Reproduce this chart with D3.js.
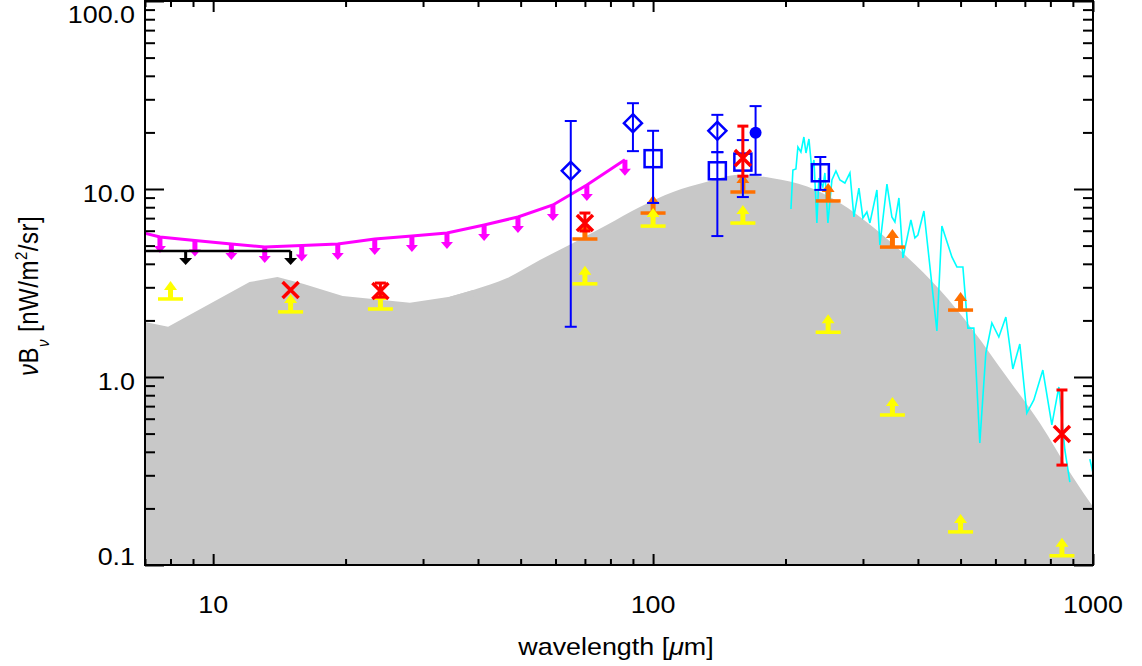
<!DOCTYPE html>
<html><head><meta charset="utf-8">
<script src="https://cdn.jsdelivr.net/npm/d3@7"></script>
<style>
body{margin:0;background:#fff}
svg{display:block}
text{font-family:"Liberation Sans",Arial,Helvetica,sans-serif;fill:#000}
</style>
</head><body>
<svg id="c" width="1142" height="666"></svg>
<script>
// ---------------- data ----------------
const modelWave = [7.0, 7.9, 12.1, 14.0, 16.0, 19.7, 28, 34.5, 39, 46.6, 55.3, 65.8, 78.5, 93.3, 111, 132, 157, 187, 224, 266, 316, 378, 449, 533, 637, 757, 900, 1000];
const modelVal  = [1.96, 1.85, 3.2, 3.4, 3.13, 2.7, 2.48, 2.67, 2.9, 3.36, 4.19, 5.16, 6.44, 8.02, 9.64, 10.9, 11.9, 11.4, 10.3, 8.43, 6.28, 4.35, 2.9, 1.78, 1.0, 0.569, 0.294, 0.204];

const magentaWave = [6.3, 7.57, 9.09, 11.0, 13.1, 15.9, 19.2, 23.3, 28.3, 34.0, 41.3, 49.3, 59.2, 70.7, 86.3];
const magentaVal  = [6.2, 5.55, 5.32, 5.10, 4.91, 5.01, 5.10, 5.42, 5.62, 5.83, 6.44, 7.10, 8.22, 10.5, 14.3];

const blackBand = [5, 15];
const blackVal = 4.68;
const blackArrowWave = [8.66, 15];

const cyanWave = [205.8,207.9,211.2,213.4,216.8,220.2,222.6,226.1,229.6,232.1,235.7,238.2,243.2,245.8,249.7,255.0,260.4,265.9,272.9,280.2,286.1,293.7,299.9,306.2,311.1,322.7,327.8,340.1,349.0,354.6,362.1,369.8,385.5,393.7,399.9,412.7,441.7,453.4,477.8,490.5,506.1,519.5,536.0,553.0,570.7,589.0,610.9,633.7,657.3,681.8,707.2,733.7,769.1,806.2,836.3,863.0,885.9,930,983.5,1015];
const cyanVal  = [7.83,12.62,12.78,16.73,15.73,18.91,15.54,18.45,12.62,14.27,6.60,11.44,10.25,12.17,6.60,11.16,12.46,11.16,10.76,12.17,7.10,10.12,7.01,7.55,6.60,9.88,5.04,10.63,7.10,6.68,8.96,4.30,6.84,5.49,5.69,7.64,1.76,6.36,4.35,3.85,3.85,1.82,1.82,0.446,1.342,1.938,1.632,2.085,1.103,1.498,0.643,0.755,1.089,0.556,0.885,0.409,0.276,null,0.366,0.266];

const yellowWave = [8, 15, 24, 70, 100, 160, 250, 350, 500, 850];
const yellowVal  = [2.6, 2.22, 2.3, 3.13, 6.35, 6.59, 1.73, 0.628, 0.15, 0.112];

const orangeWave = [70, 100, 160, 250, 350, 500];
const orangeVal  = [5.42, 7.45, 9.64, 8.64, 4.91, 2.27];

const diamondWave = [65, 90, 140];
const diamondVal  = [12.5, 22.4, 20.4];
const diamondLo   = [1.85, 15.9, 15.7];
const diamondHi   = [23.0, 28.6, 24.8];

const squareWave = [100, 140, 160, 240];
const squareVal  = [14.5, 12.5, 13.9, 12.2];
const squareLo   = [8.43, 5.62, 9.06, 9.89];
const squareHi   = [20.4, 15.7, 18.2, 14.8];

const circleWave = [171];
const circleVal  = [19.9];
const circleLo   = [11.9];
const circleHi   = [27.6];

const redWave = [15, 24, 70, 160, 850];
const redVal  = [2.9, 2.87, 6.59, 14.6, 0.498];
const redLo   = [null, 2.66, 5.98, 11.7, 0.34];
const redHi   = [null, 3.16, 7.45, 21.6, 0.853];

const xMajor = [10, 100, 1000];
const xMajorLabels = ["10", "100", "1000"];
const xMinor = [7,8,9,20,30,40,50,60,70,80,90,200,300,400,500,600,700,800,900];
const yMajor = [0.1, 1, 10, 100];
const yMajorLabels = ["0.1", "1.0", "10.0", "100.0"];
const yMinor = [0.2,0.3,0.4,0.5,0.6,0.7,0.8,0.9,2,3,4,5,6,7,8,9,20,30,40,50,60,70,80,90];

// ---------------- layout ----------------
const X0 = 145, X1 = 1093, Y0 = 565, Y1 = 1;
const SX = 1.12; // horizontal text stretch
const x = d3.scaleLog().domain([7, 1000]).range([X0, X1]);
const y = d3.scaleLog().domain([0.1, 100]).range([Y0, Y1]);

const svg = d3.select("#c");
svg.append("defs").append("clipPath").attr("id", "clip")
  .append("rect").attr("x", X0).attr("y", Y1).attr("width", X1 - X0).attr("height", Y0 - Y1);
const plot = svg.append("g").attr("clip-path", "url(#clip)");

// model (grey): jagged short-wavelength part linear, smooth long-wavelength part curved (overlapping to avoid seams)
const model = modelWave.map((w, i) => ({w, v: modelVal[i]}));
const splitIdx = 7;
plot.append("path").datum(model.slice(splitIdx))
  .attr("d", d3.area().curve(d3.curveMonotoneX).x(d => x(d.w)).y0(Y0).y1(d => y(d.v)))
  .attr("fill", "#c8c8c8");
plot.append("path").datum(model.slice(0, splitIdx + 2))
  .attr("d", d3.area().curve(d3.curveLinear).x(d => x(d.w)).y0(Y0).y1(d => y(d.v)))
  .attr("fill", "#c8c8c8");

// magenta upper limits
const mag = magentaWave.map((w, i) => ({w, v: magentaVal[i]}));
plot.append("path").datum(mag)
  .attr("d", d3.line().x(d => x(d.w)).y(d => y(d.v)))
  .attr("fill", "none").attr("stroke", "#ff00ff").attr("stroke-width", 3);
function downArrow(g, px, py, color, shaftW, len, headW, headH) {
  g.append("rect").attr("x", px - shaftW / 2).attr("y", py).attr("width", shaftW).attr("height", len - headH + 1).attr("fill", color);
  g.append("path").attr("d", `M${px - headW / 2},${py + len - headH}L${px + headW / 2},${py + len - headH}L${px},${py + len}Z`).attr("fill", color);
}
mag.forEach(d => downArrow(plot, x(d.w), y(d.v), "#ff00ff", 5, 16, 12, 7));

// black band upper limit
plot.append("line").attr("x1", x(blackBand[0])).attr("x2", x(blackBand[1]))
  .attr("y1", y(blackVal)).attr("y2", y(blackVal)).attr("stroke", "#000").attr("stroke-width", 2.5);
blackArrowWave.forEach(w => downArrow(plot, x(w), y(blackVal), "#000", 3, 14, 13, 7));

// cyan spectrum
const cy = cyanWave.map((w, i) => ({w, v: cyanVal[i]}));
plot.append("path").datum(cy)
  .attr("d", d3.line().defined(d => d.v != null).x(d => x(d.w)).y(d => y(d.v)))
  .attr("fill", "none").attr("stroke", "#00ffff").attr("stroke-width", 1.6);

// lower limits
function upArrow(g, px, py, color) {
  g.append("line").attr("x1", px - 12.5).attr("x2", px + 12.5).attr("y1", py).attr("y2", py)
    .attr("stroke", color).attr("stroke-width", 3.5);
  g.append("rect").attr("x", px - 2.5).attr("y", py - 10).attr("width", 5).attr("height", 10).attr("fill", color);
  g.append("path").attr("d", `M${px - 6.5},${py - 9}L${px + 6.5},${py - 9}L${px},${py - 18}Z`).attr("fill", color);
}
orangeWave.forEach((w, i) => upArrow(plot, x(w), y(orangeVal[i]), "#ff7000"));
yellowWave.forEach((w, i) => upArrow(plot, x(w), y(yellowVal[i]), "#ffff00"));

// error bars
function errBar(g, px, lo, hi, color, sw, cap) {
  g.append("line").attr("x1", px).attr("x2", px).attr("y1", y(lo)).attr("y2", y(hi)).attr("stroke", color).attr("stroke-width", sw);
  [lo, hi].forEach(v => g.append("line").attr("x1", px - cap).attr("x2", px + cap).attr("y1", y(v)).attr("y2", y(v)).attr("stroke", color).attr("stroke-width", sw));
}
const blue = "#0000ff";
diamondWave.forEach((w, i) => {
  const px = x(w), py = y(diamondVal[i]);
  errBar(plot, px, diamondLo[i], diamondHi[i], blue, 2, 6);
  plot.append("path").attr("d", `M${px},${py - 9}L${px + 9},${py}L${px},${py + 9}L${px - 9},${py}Z`)
    .attr("fill", "none").attr("stroke", blue).attr("stroke-width", 2.5);
});
squareWave.forEach((w, i) => {
  const px = x(w), py = y(squareVal[i]);
  errBar(plot, px, squareLo[i], squareHi[i], blue, 2, 6);
  plot.append("rect").attr("x", px - 8.5).attr("y", py - 8.5).attr("width", 17).attr("height", 17)
    .attr("fill", "none").attr("stroke", blue).attr("stroke-width", 2.5);
});
circleWave.forEach((w, i) => {
  const px = x(w), py = y(circleVal[i]);
  errBar(plot, px, circleLo[i], circleHi[i], blue, 2, 6);
  plot.append("circle").attr("cx", px).attr("cy", py).attr("r", 6).attr("fill", blue);
});
redWave.forEach((w, i) => {
  const px = x(w), py = y(redVal[i]);
  if (redLo[i] != null) errBar(plot, px, redLo[i], redHi[i], "#ff0000", 3, 5.5);
  plot.append("path").attr("d", `M${px - 8},${py - 8}L${px + 8},${py + 8}M${px - 8},${py + 8}L${px + 8},${py - 8}`)
    .attr("stroke", "#ff0000").attr("stroke-width", 3.5).attr("fill", "none");
});

// ---------------- axes ----------------
function ticks(gen, tr) {
  const g = svg.append("g").attr("transform", tr).call(gen);
  g.select(".domain").remove();
  g.selectAll("text").remove();
  g.selectAll("line").attr("stroke", "#000").attr("stroke-width", 2);
}
ticks(d3.axisLeft(y).tickValues(yMajor).tickSize(-19), `translate(${X0},0)`);
ticks(d3.axisLeft(y).tickValues(yMinor).tickSize(-10), `translate(${X0},0)`);
ticks(d3.axisRight(y).tickValues(yMajor).tickSize(-19), `translate(${X1},0)`);
ticks(d3.axisRight(y).tickValues(yMinor).tickSize(-10), `translate(${X1},0)`);
ticks(d3.axisBottom(x).tickValues(xMajor).tickSize(-11), `translate(0,${Y0})`);
ticks(d3.axisBottom(x).tickValues(xMinor).tickSize(-6), `translate(0,${Y0})`);
ticks(d3.axisTop(x).tickValues(xMajor).tickSize(-11), `translate(0,${Y1})`);
ticks(d3.axisTop(x).tickValues(xMinor).tickSize(-6), `translate(0,${Y1})`);
svg.append("rect").attr("x", X0).attr("y", Y1).attr("width", X1 - X0).attr("height", Y0 - Y1)
  .attr("fill", "none").attr("stroke", "#000").attr("stroke-width", 2);

// tick labels
yMajor.forEach((v, i) => {
  const by = Math.min(Y0, Math.max(Y1 + 22, y(v) + 13));
  svg.append("text").attr("transform", `translate(135,${by}) scale(${SX},1)`)
    .attr("text-anchor", "end").attr("font-size", 24).text(yMajorLabels[i]);
});
xMajor.forEach((v, i) => {
  svg.append("text").attr("transform", `translate(${x(v)},613) scale(${SX},1)`)
    .attr("text-anchor", "middle").attr("font-size", 24).text(xMajorLabels[i]);
});

// axis titles
const xt = svg.append("text").attr("transform", `translate(616,655) scale(${SX},1)`)
  .attr("text-anchor", "middle").attr("font-size", 24);
xt.append("tspan").text("wavelength [");
xt.append("tspan").attr("font-style", "italic").text("μ");
xt.append("tspan").text("m]");

const yt = svg.append("text").attr("transform", `translate(38,296) scale(${SX},1) rotate(-90)`)
  .attr("text-anchor", "middle").attr("font-size", 24).attr("letter-spacing", 0.5);
yt.append("tspan").attr("font-style", "italic").text("ν");
yt.append("tspan").text("B");
yt.append("tspan").attr("font-style", "italic").attr("font-size", 15).attr("dy", 10).text("ν");
yt.append("tspan").attr("dy", -10).text("  [nW/m");
yt.append("tspan").attr("font-size", 15).attr("dy", -10).text("2");
yt.append("tspan").attr("dy", 10).text("/sr]");
</script>
</body></html>
